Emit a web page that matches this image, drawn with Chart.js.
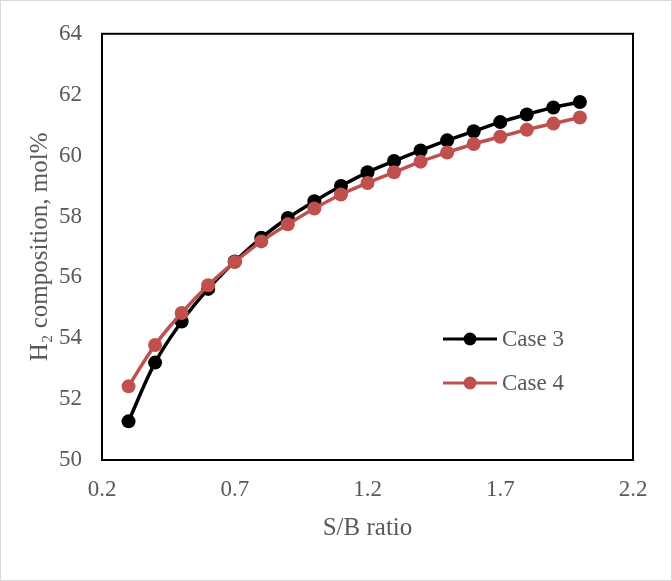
<!DOCTYPE html>
<html>
<head>
<meta charset="utf-8">
<script src="https://cdn.jsdelivr.net/npm/chart.js@4"></script>
<style>
  html, body { margin: 0; padding: 0; background: #fff; }
  #wrap { position: relative; width: 672px; height: 581px; box-sizing: border-box; border: 1px solid #d9d9d9; }
  #myChart { position: absolute; left: -1px; top: -1px; }
</style>
</head>
<body>
<div id="wrap"><canvas id="myChart" width="672" height="581"></canvas></div>
<script>
var sbRatio = [0.3, 0.4, 0.5, 0.6, 0.7, 0.8, 0.9, 1.0, 1.1, 1.2, 1.3, 1.4, 1.5, 1.6, 1.7, 1.8, 1.9, 2.0];
var case3 = [51.27, 53.2, 54.55, 55.62, 56.52, 57.3, 57.95, 58.5, 59.0, 59.45, 59.82, 60.17, 60.5, 60.8, 61.1, 61.35, 61.58, 61.76];
var case4 = [52.42, 53.78, 54.83, 55.74, 56.5, 57.18, 57.74, 58.26, 58.72, 59.1, 59.45, 59.8, 60.1, 60.38, 60.62, 60.85, 61.05, 61.25];
var xTicks = [0.2, 0.7, 1.2, 1.7, 2.2];
var yTicks = [50, 52, 54, 56, 58, 60, 62, 64];
var seriesNames = ['Case 3', 'Case 4'];
var seriesColors = ['#000000', '#C0504D'];

var textColor = '#595959';
var fontFamily = '"Liberation Serif", "Times New Roman", serif';

function pts(ys) {
    var out = [];
    for (var i = 0; i < sbRatio.length; i++) out.push({x: sbRatio[i], y: ys[i]});
    return out;
}

// plot frame + legend placed inside the plot area
var framePlugin = {
    id: 'frame',
    afterDraw: function(chart) {
        var ctx = chart.ctx, a = chart.chartArea;
        ctx.save();
        ctx.strokeStyle = '#000';
        ctx.lineWidth = 2;
        ctx.strokeRect(a.left, a.top, a.right - a.left, a.bottom - a.top);
        var rows = [{ds: 0, y: 339}, {ds: 1, y: 383}];
        rows.forEach(function(r) {
            var ds = chart.data.datasets[r.ds];
            ctx.strokeStyle = ds.borderColor;
            ctx.lineWidth = 3;
            ctx.beginPath();
            ctx.moveTo(443, r.y);
            ctx.lineTo(497, r.y);
            ctx.stroke();
            ctx.fillStyle = ds.backgroundColor;
            ctx.beginPath();
            ctx.arc(470, r.y, 6.5, 0, Math.PI * 2);
            ctx.fill();
            ctx.fillStyle = textColor;
            ctx.font = '23px ' + fontFamily;
            ctx.textBaseline = 'middle';
            ctx.textAlign = 'left';
            ctx.fillText(ds.label, 502, r.y + 1);
        });
        ctx.restore();
    }
};

var chartdata = {
    datasets: [
        {
            label: seriesNames[0],
            data: pts(case3),
            borderColor: seriesColors[0],
            backgroundColor: seriesColors[0],
            borderWidth: 3.5,
            pointRadius: 7,
            pointBorderWidth: 0,
            tension: 0.4,
            order: 1
        },
        {
            label: seriesNames[1],
            data: pts(case4),
            borderColor: seriesColors[1],
            backgroundColor: seriesColors[1],
            borderWidth: 3.5,
            pointRadius: 7,
            pointBorderWidth: 0,
            tension: 0.4,
            order: 0
        }
    ]
};

var options = {
    responsive: false,
    animation: false,
    layout: { padding: { left: 25, right: 39, top: 32, bottom: 38 } },
    plugins: { legend: { display: false }, tooltip: { enabled: false } },
    scales: {
        x: {
            type: 'linear',
            min: 0.2, max: 2.2,
            afterBuildTicks: function(s) { s.ticks = xTicks.map(function(v) { return {value: v}; }); },
            afterFit: function(s) { s.height = 83; },
            grid: { display: false, drawTicks: false },
            border: { display: false },
            ticks: { color: textColor, font: { family: fontFamily, size: 23 }, padding: 16, maxRotation: 0,
                     callback: function(v) { return v.toFixed(1); } },
            title: { display: true, text: 'S/B ratio', color: textColor, font: { family: fontFamily, size: 25 }, padding: 0 }
        },
        y: {
            min: 50, max: 64,
            afterBuildTicks: function(s) { s.ticks = yTicks.map(function(v) { return {value: v}; }); },
            afterFit: function(s) { s.width = 77; },
            grid: { display: false, drawTicks: false },
            border: { display: false },
            ticks: { color: textColor, font: { family: fontFamily, size: 23 }, padding: 20 },
            title: { display: true, text: 'H\u2082 composition, mol%', color: textColor, font: { family: fontFamily, size: 25 }, padding: 0 }
        }
    }
};

var graph = new Chart(document.getElementById('myChart'), {
    type: 'scatter',
    data: chartdata,
    options: Object.assign(options, { showLine: true }),
    plugins: [framePlugin]
});
</script>
</body>
</html>
